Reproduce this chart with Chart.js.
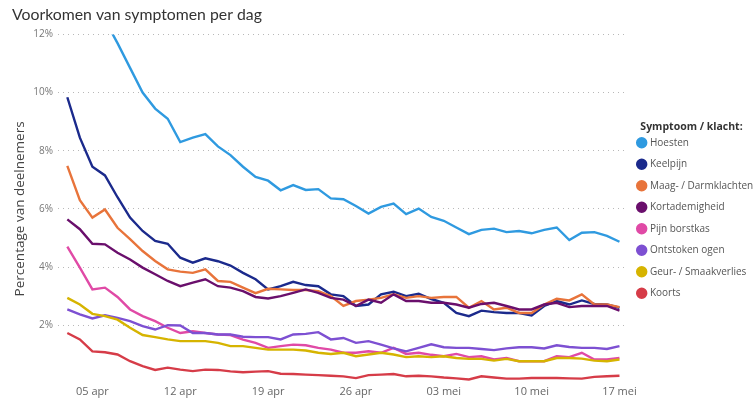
<!DOCTYPE html>
<html>
<head>
<meta charset="utf-8">
<script src="https://cdn.jsdelivr.net/npm/chart.js@4.4.0/dist/chart.umd.min.js"></script>
<style>
    html, body { margin: 0; padding: 0; background: #fff; }
    #wrap { width: 756px; height: 401px; position: relative; }
</style>
</head>
<body>
<div id="wrap"><canvas id="symptomenChart"></canvas></div>
<script>
// Dagen: 3 apr t/m 17 mei
const dagen = [
    '03 apr', '04 apr', '05 apr', '06 apr', '07 apr', '08 apr', '09 apr', '10 apr', '11 apr', '12 apr',
    '13 apr', '14 apr', '15 apr', '16 apr', '17 apr', '18 apr', '19 apr', '20 apr', '21 apr', '22 apr',
    '23 apr', '24 apr', '25 apr', '26 apr', '27 apr', '28 apr', '29 apr', '30 apr', '01 mei', '02 mei',
    '03 mei', '04 mei', '05 mei', '06 mei', '07 mei', '08 mei', '09 mei', '10 mei', '11 mei', '12 mei',
    '13 mei', '14 mei', '15 mei', '16 mei', '17 mei'
];
const xTickLabels = ['05 apr', '12 apr', '19 apr', '26 apr', '03 mei', '10 mei', '17 mei'];
const yTickValues = [2, 4, 6, 8, 10, 12];

// Percentage van deelnemers per symptoom
const hoesten = [14.9, 14.1, 13.3, 12.5, 11.7, 10.85, 10.0, 9.45, 9.1, 8.3, 8.45, 8.57, 8.15, 7.85, 7.45, 7.1, 6.97, 6.64, 6.82, 6.65, 6.68, 6.36, 6.33, 6.1, 5.84, 6.07, 6.18, 5.82, 6.01, 5.72, 5.59, 5.36, 5.13, 5.28, 5.32, 5.2, 5.24, 5.16, 5.28, 5.36, 4.93, 5.18, 5.2, 5.07, 4.87];
const keelpijn = [9.84, 8.45, 7.45, 7.15, 6.4, 5.7, 5.24, 4.9, 4.8, 4.32, 4.15, 4.3, 4.2, 4.05, 3.8, 3.58, 3.23, 3.34, 3.49, 3.38, 3.34, 3.06, 3.0, 2.66, 2.71, 3.06, 3.15, 3.0, 3.08, 2.9, 2.77, 2.42, 2.31, 2.5, 2.45, 2.42, 2.42, 2.33, 2.66, 2.83, 2.71, 2.85, 2.73, 2.71, 2.6];
const maagDarm = [7.48, 6.3, 5.7, 5.98, 5.35, 4.96, 4.55, 4.21, 3.92, 3.84, 3.8, 3.92, 3.52, 3.49, 3.29, 3.1, 3.25, 3.23, 3.21, 3.21, 3.17, 3.0, 2.66, 2.83, 2.88, 2.94, 3.06, 2.94, 3.0, 2.94, 2.97, 2.97, 2.6, 2.83, 2.54, 2.6, 2.42, 2.42, 2.71, 2.91, 2.85, 3.06, 2.71, 2.71, 2.62];
const kortademigheid = [5.64, 5.3, 4.8, 4.78, 4.49, 4.26, 3.98, 3.75, 3.52, 3.34, 3.46, 3.58, 3.34, 3.29, 3.17, 2.97, 2.92, 3.0, 3.11, 3.23, 3.11, 2.94, 2.88, 2.66, 2.88, 2.77, 3.06, 2.83, 2.83, 2.77, 2.77, 2.71, 2.6, 2.73, 2.77, 2.66, 2.54, 2.54, 2.71, 2.77, 2.62, 2.66, 2.66, 2.66, 2.5];
const pijnBorstkas = [4.7, 3.98, 3.23, 3.29, 2.97, 2.54, 2.31, 2.14, 1.91, 1.73, 1.79, 1.73, 1.68, 1.66, 1.5, 1.39, 1.22, 1.28, 1.33, 1.31, 1.22, 1.16, 1.05, 1.05, 1.1, 1.05, 1.22, 1.01, 1.05, 0.98, 0.93, 1.01, 0.9, 0.93, 0.82, 0.87, 0.76, 0.76, 0.76, 0.93, 0.9, 1.05, 0.82, 0.82, 0.87];
const ontstokenOgen = [2.54, 2.37, 2.23, 2.34, 2.25, 2.14, 1.97, 1.85, 2.0, 1.99, 1.73, 1.73, 1.68, 1.68, 1.6, 1.59, 1.59, 1.51, 1.68, 1.7, 1.76, 1.51, 1.56, 1.39, 1.45, 1.33, 1.2, 1.1, 1.22, 1.34, 1.24, 1.22, 1.22, 1.18, 1.14, 1.2, 1.24, 1.24, 1.2, 1.31, 1.25, 1.22, 1.22, 1.18, 1.28];
const geurSmaak = [2.94, 2.71, 2.39, 2.31, 2.19, 1.91, 1.66, 1.59, 1.51, 1.45, 1.45, 1.45, 1.39, 1.28, 1.28, 1.22, 1.16, 1.16, 1.16, 1.13, 1.05, 1.01, 1.05, 0.93, 0.99, 1.05, 0.99, 0.9, 0.93, 0.9, 0.93, 0.87, 0.84, 0.84, 0.78, 0.84, 0.76, 0.76, 0.76, 0.87, 0.87, 0.85, 0.78, 0.76, 0.82];
const koorts = [1.73, 1.51, 1.1, 1.07, 0.99, 0.76, 0.59, 0.46, 0.54, 0.47, 0.42, 0.47, 0.46, 0.41, 0.38, 0.4, 0.42, 0.33, 0.32, 0.3, 0.28, 0.26, 0.24, 0.18, 0.28, 0.3, 0.32, 0.24, 0.26, 0.24, 0.2, 0.17, 0.13, 0.24, 0.2, 0.16, 0.16, 0.18, 0.18, 0.18, 0.17, 0.16, 0.22, 0.24, 0.26];

const series = [
    { label: 'Hoesten', data: hoesten, color: '#2f9ae0' },
    { label: 'Keelpijn', data: keelpijn, color: '#1b2a8c' },
    { label: 'Maag- / Darmklachten', data: maagDarm, color: '#e8743b' },
    { label: 'Kortademigheid', data: kortademigheid, color: '#6a0f6c' },
    { label: 'Pijn borstkas', data: pijnBorstkas, color: '#e04aa6' },
    { label: 'Ontstoken ogen', data: ontstokenOgen, color: '#7d50d2' },
    { label: 'Geur- / Smaakverlies', data: geurSmaak, color: '#d6b400' },
    { label: 'Koorts', data: koorts, color: '#d63c48' }
];

const FONT = "'Open Sans', 'Noto Sans', sans-serif";

new Chart(document.getElementById('symptomenChart'), {
    type: 'line',
    data: {
        datasets: series.slice().reverse().map(s => ({
            label: s.label,
            data: s.data.map((v, i) => ({ x: i, y: v })),
            borderColor: s.color,
            backgroundColor: s.color,
            borderWidth: 2.4,
            pointRadius: 0,
            tension: 0
        }))
    },
    options: {
        responsive: true,
        maintainAspectRatio: false,
        animation: false,
        layout: { padding: { left: 12, right: 0, top: 0, bottom: 0.5 } },
        plugins: {
            title: {
                display: true,
                text: 'Voorkomen van symptomen per dag',
                align: 'start',
                color: '#333',
                font: { family: "Lato, 'Open Sans', sans-serif", size: 15.8, weight: 'normal' },
                padding: { top: 5, bottom: 10.5 }
            },
            legend: {
                position: 'right',
                reverse: true,
                maxWidth: 129,
                title: {
                    display: true,
                    text: 'Symptoom / klacht:',
                    position: 'center',
                    color: '#333',
                    font: { family: FONT, size: 10.5, weight: 'bold' },
                    padding: { top: 31, bottom: -8 }
                },
                labels: {
                    usePointStyle: true,
                    pointStyle: 'circle',
                    boxWidth: 6.4,
                    boxHeight: 6.4,
                    padding: 11.5,
                    color: '#555',
                    font: { family: FONT, size: 10 }
                }
            },
            tooltip: { enabled: false }
        },
        scales: {
            x: {
                type: 'linear',
                min: -0.75,
                max: 44.6,
                grid: { display: false, drawTicks: false },
                border: { display: false },
                afterBuildTicks: axis => {
                    axis.ticks = xTickLabels.map(l => ({ value: dagen.indexOf(l) }));
                },
                ticks: {
                    autoSkip: false,
                    maxRotation: 0,
                    color: '#666',
                    font: { family: FONT, size: 11 },
                    padding: 2,
                    callback: v => dagen[v]
                }
            },
            y: {
                min: 0,
                max: 12,
                afterBuildTicks: axis => {
                    axis.ticks = [0].concat(yTickValues).map(v => ({ value: v }));
                },
                grid: {
                    drawTicks: false,
                    color: ctx => ctx.tick && ctx.tick.value === 0 ? 'rgba(0,0,0,0)' : '#b8b8b8',
                    lineWidth: 1
                },
                border: { display: false, dash: [1, 4] },
                ticks: {
                    color: '#777',
                    font: { family: FONT, size: 10 },
                    padding: 5,
                    callback: v => v === 0 ? '' : v + '%'
                },
                title: {
                    display: true,
                    text: 'Percentage van deelnemers',
                    color: '#444',
                    font: { family: FONT, size: 13.5 },
                    padding: { top: 0, bottom: 0 }
                }
            }
        }
    }
});
</script>
</body>
</html>
